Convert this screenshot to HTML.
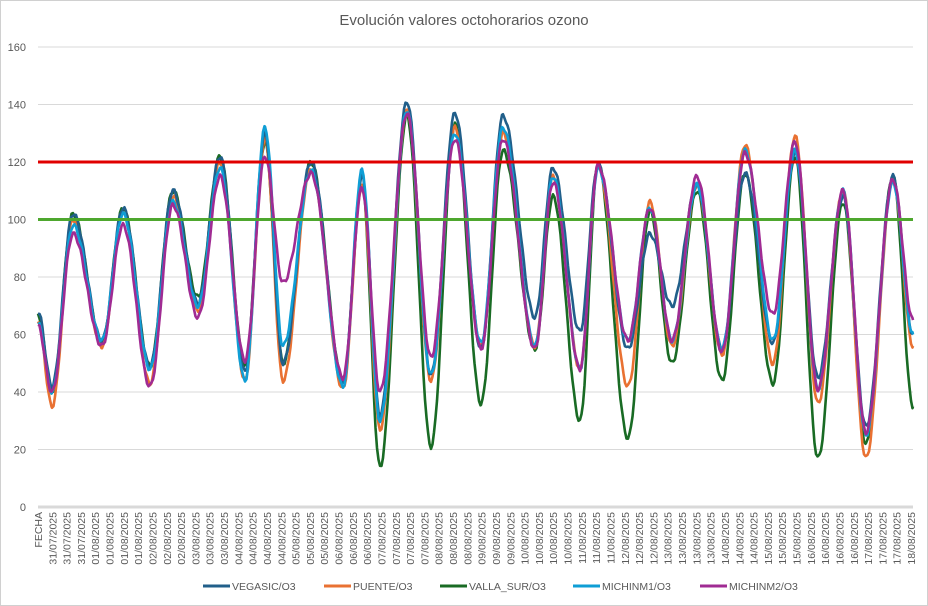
<!DOCTYPE html>
<html><head><meta charset="utf-8"><style>
html,body{margin:0;padding:0;background:#fff}
#c{position:absolute;left:0;top:0;width:926px;height:604px;border:1px solid #d0d0d0}
svg{position:absolute;left:0;top:0}
text{font-family:"Liberation Sans",sans-serif;fill:#595959}
</style></head><body><div id="c"></div>
<svg id="s" width="928" height="606" xmlns="http://www.w3.org/2000/svg"></svg>
<script>
const s=document.getElementById('s');
let h='';
const Y=v=>507-v*2.875;
h+='<text x="464" y="25" text-anchor="middle" font-size="15">Evolución valores octohorarios ozono</text>';
for(let v=0;v<=160;v+=20){const y=Y(v);
 if(v>0)h+=`<line x1="38" x2="913" y1="${y}" y2="${y}" stroke="#d9d9d9" stroke-width="1"/>`;
 h+=`<text x="26" y="${y+4}" text-anchor="end" font-size="11">${v}</text>`;}
h+=`<line x1="38" x2="913" y1="507" y2="507" stroke="#d9d9d9" stroke-width="3"/>`;
// x labels
const labs=['FECHA'];const days=['31/07','01/08','02/08','03/08','04/08','05/08','06/08','07/08','08/08','09/08','10/08','11/08','12/08','13/08','14/08','15/08','16/08','17/08','18/08'];
const n=61;for(let i=0;i<n;i++){let d=Math.min(18,Math.floor((i+0.4)*18/60));labs.push(days[d]+'/2025');}
labs[labs.length-1]='18/08/2025';
const step=(911-38)/(labs.length-1);
labs.forEach((l,i)=>{const x=38+i*step+4;h+=`<text transform="translate(${x},512) rotate(-90)" text-anchor="end" font-size="10.5">${l}</text>`;});
const X=[38,52,73,102,123,150,173,198,220,245,265,283,311,343,362,380,407,431,455,481,503,535,553,580,598,628,650,672,697,722,745,773,795,818,843,866,893,913];
const S=[
['#196b24',[67,40,102,57,104,49,110,73,122,49,127,50,120,44,112,14,136,21,133,36,124,55,108,30,119,24,103,50,110,44,116,43,122,17,106,22,115,35]],
['#e97132',[65,35,100,56,103,43,108,68,120,44,128,44,118,41,112,27,138,44,132,56,130,56,115,48,119,42,106,56,112,53,126,50,129,36,110,17,114,56]],
['#215f8a',[68,42,102,58,104,49,110,71,122,47,130,50,120,43,115,32,141,46,137,55,136,66,118,61,119,55,95,70,112,55,116,57,123,45,108,28,115,60]],
['#0f9ed5',[64,40,98,58,102,48,106,70,118,44,132,56,117,42,117,30,138,46,130,57,132,56,115,48,118,58,104,58,112,55,124,58,124,41,110,25,113,60]],
['#a02b93',[63,40,95,56,98,42,105,66,115,51,122,78,116,45,111,40,137,52,128,55,128,55,113,48,119,58,104,58,115,54,123,67,127,41,110,26,114,65]]];
S.forEach(([c,V],k)=>{let p='';
 for(let i=0;i<X.length-1;i++){for(let x=X[i];x<X[i+1];x+=1.5){const t=(x-X[i])/(X[i+1]-X[i]);const v=V[i]+(V[i+1]-V[i])*(1-Math.cos(Math.PI*t))/2+Math.sin(x*0.9+k)*0.8;p+=(p?'L':'M')+x.toFixed(1)+','+Y(v).toFixed(1);}}
 p+='L913,'+Y(V[V.length-1]).toFixed(1);
 h+=`<path d="${p}" fill="none" stroke="${c}" stroke-width="2.6" stroke-linejoin="round"/>`;});
h+=`<line x1="38" x2="913" y1="${Y(120)}" y2="${Y(120)}" stroke="#e00000" stroke-width="3"/>`;
h+=`<line x1="38" x2="913" y1="${Y(100)}" y2="${Y(100)}" stroke="#4ea72e" stroke-width="3"/>`;
const L=[['VEGASIC/O3','#215f8a',203],['PUENTE/O3','#e97132',324],['VALLA_SUR/O3','#196b24',440],['MICHINM1/O3','#0f9ed5',573],['MICHINM2/O3','#a02b93',700]];
L.forEach(([t,c,x])=>{h+=`<line x1="${x}" x2="${x+27}" y1="586" y2="586" stroke="${c}" stroke-width="3"/><text x="${x+29}" y="590" font-size="10.5">${t}</text>`;});
s.innerHTML=h;
</script></body></html>
